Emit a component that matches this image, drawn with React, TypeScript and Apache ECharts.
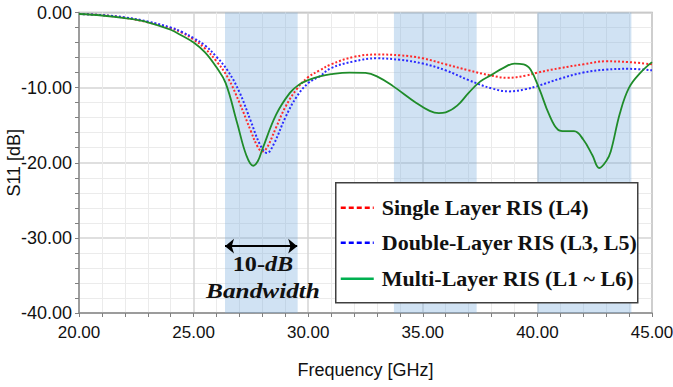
import React, { useEffect, useRef } from "react";
import * as echarts from "echarts";

// ---- data ----
const singleFreq = [20, 21, 22, 23, 24, 24.5, 25, 25.5, 26, 26.5, 27, 27.5, 27.8, 28.0, 28.2, 28.6, 29.0, 29.5, 30, 30.5, 31, 32, 33, 34, 35, 36, 37, 38, 38.7, 39.5, 40, 41, 42, 43, 44, 45];
const singleS11 = [-0.2, -0.35, -0.7, -1.3, -2.1, -2.7, -3.6, -4.8, -6.5, -8.7, -12.0, -15.8, -17.9, -18.5, -18.0, -15.3, -12.6, -10.2, -8.6, -7.7, -6.9, -5.9, -5.6, -5.7, -6.1, -6.9, -7.7, -8.4, -8.7, -8.4, -8.0, -7.4, -6.9, -6.5, -6.6, -6.9];

const doubleFreq = [20, 21, 22, 23, 24, 24.5, 25, 25.5, 26, 26.5, 27, 27.5, 27.9, 28.2, 28.5, 29.0, 29.5, 30, 30.5, 31, 32, 33, 34, 35, 36, 37, 38, 38.8, 39.5, 40, 41, 42, 43, 44, 45];
const doubleS11 = [-0.2, -0.35, -0.65, -1.2, -2.0, -2.6, -3.4, -4.4, -5.9, -7.8, -10.6, -14.5, -17.6, -18.7, -17.5, -14.0, -11.2, -9.4, -8.5, -7.4, -6.5, -6.1, -6.3, -6.8, -7.7, -9.0, -10.1, -10.5, -10.2, -9.8, -8.8, -8.0, -7.6, -7.5, -7.7];

const multiFreq = [20, 21, 22, 23, 24, 24.5, 25, 25.5, 26, 26.4, 26.9, 27.3, 27.6, 27.8, 28.0, 28.6, 29.2, 29.6, 30.0, 30.5, 31, 31.8, 32.5, 33.0, 33.7, 34.7, 35.3, 35.7, 36.0, 36.5, 37.0, 37.5, 38.0, 38.5, 39.0, 39.4, 39.7, 40.1, 40.5, 40.9, 41.2, 41.6, 42.0, 42.4, 42.7, 43.0, 43.2, 43.6, 44.0, 44.5, 45];
const multiS11 = [-0.2, -0.4, -0.75, -1.3, -2.3, -3.1, -4.0, -5.3, -7.3, -9.4, -14.7, -19.0, -20.4, -19.8, -18.2, -13.6, -10.7, -9.6, -9.0, -8.5, -8.2, -8.0, -8.05, -8.5, -9.8, -12.0, -13.1, -13.4, -13.3, -12.4, -10.7, -9.2, -8.3, -7.4, -6.8, -6.9, -7.6, -10.3, -13.5, -15.6, -15.8, -15.8, -16.9, -19.0, -20.7, -19.8, -18.5, -13.4, -10.0, -8.0, -6.6];

const bandStarts = [26.37, 33.74, 40.0];
const bandEnds = [29.54, 37.35, 44.1];
const arrowFrom = 26.37;
const arrowTo = 29.52;
const arrowLevel = -31.1;

const seriesNames = ["Single Layer RIS (L4)", "Double-Layer RIS (L3, L5)", "Multi-Layer RIS (L1 ~ L6)"];
const xAxisTitle = "Frequency [GHz]";
const yAxisTitle = "S11 [dB]";

const SANS = '"Liberation Sans", Arial, sans-serif';
const SERIF = '"Liberation Serif", "Times New Roman", serif';

const zip = (xs: number[], ys: number[]) => xs.map((x, i) => [x, ys[i]]);

export default function App() {
  const ref = useRef<HTMLDivElement>(null);
  useEffect(() => {
    document.body.style.margin = "0";
    const chart = echarts.init(ref.current!, null, { renderer: "svg" });

    const legendColors = ["#ff0000", "#0000ff", "#00b050"];
    const legendDash: any[] = [[5, 3], [5, 3], null];
    const LZ = 100;
    const legendChildren: any[] = [
      { type: "rect", z: LZ, shape: { x: 0, y: 0, width: 302, height: 120 }, style: { fill: "#ffffff", stroke: "#404040", lineWidth: 1.5 } },
    ];
    const rowY = [25, 60, 96];
    seriesNames.forEach((name, i) => {
      legendChildren.push({
        type: "line",
        z: LZ + 1,
        shape: { x1: 5, y1: rowY[i], x2: 38, y2: rowY[i] },
        style: { stroke: legendColors[i], lineWidth: 2.5, lineDash: legendDash[i] },
      });
      legendChildren.push({
        type: "text",
        z: LZ + 1,
        x: 46,
        y: rowY[i],
        style: { text: name, font: `bold 22px ${SERIF}`, fill: "#111", textVerticalAlign: "middle", textAlign: "left" },
      });
    });

    const axisCommon = {
      nameLocation: "middle",
      nameMoveOverlap: false,
      nameTextStyle: { fontFamily: SANS, fontSize: 18, color: "#111" },
      axisLine: { show: true, onZero: false, lineStyle: { color: "#8c8c8c", width: 1.5 } },
      axisTick: { show: true, length: 4, lineStyle: { color: "#808080" } },
      minorTick: { show: true, splitNumber: 5, length: 4, lineStyle: { color: "#808080" } },
      splitLine: { show: true, lineStyle: { color: "#d4d4d4", width: 1.5 } },
      minorSplitLine: { show: true, lineStyle: { color: "#ebebeb", width: 1 } },
    };

    const option: any = {
      animation: false,
      backgroundColor: "#ffffff",
      grid: {
        left: 79,
        right: 21,
        top: 12.5,
        bottom: 74,
        show: true,
        borderColor: "#a8a8a8",
        borderWidth: 1.5,
        containLabel: false,
        outerBoundsMode: "none",
      },
      xAxis: {
        ...axisCommon,
        type: "value",
        min: 20,
        max: 45,
        interval: 5,
        name: xAxisTitle,
        nameGap: 48,
        axisLabel: { formatter: (v: number) => v.toFixed(2), fontFamily: SANS, fontSize: 17, color: "#111", margin: 11 },
      },
      yAxis: {
        ...axisCommon,
        type: "value",
        min: -40,
        max: 0,
        interval: 10,
        name: yAxisTitle,
        nameGap: 56,
        axisLabel: { formatter: (v: number) => v.toFixed(2), fontFamily: SANS, fontSize: 18, color: "#111", margin: 7 },
      },
      series: [
        {
          type: "line",
          name: "bands",
          data: [],
          z: 1,
          silent: true,
          markArea: {
            silent: true,
            itemStyle: { color: "rgba(121,172,221,0.35)" },
            data: bandStarts.map((s, i) => [{ xAxis: s }, { xAxis: bandEnds[i] }]),
          },
          markLine: {
            silent: true,
            symbol: ["arrow", "arrow"],
            symbolSize: [11, 9],
            label: { show: false },
            lineStyle: { color: "#000", width: 2, type: "solid" },
            data: [[{ coord: [arrowFrom, arrowLevel] }, { coord: [arrowTo, arrowLevel] }]],
          },
        },
        {
          type: "line",
          name: seriesNames[0],
          data: zip(singleFreq, singleS11),
          showSymbol: false,
          smooth: 0.4,
          z: 3,
          lineStyle: { color: "#ff2a2a", width: 2, type: [2, 2] },
        },
        {
          type: "line",
          name: seriesNames[1],
          data: zip(doubleFreq, doubleS11),
          showSymbol: false,
          smooth: 0.4,
          z: 3,
          lineStyle: { color: "#2a2aff", width: 2, type: [2, 2] },
        },
        {
          type: "line",
          name: seriesNames[2],
          data: zip(multiFreq, multiS11),
          showSymbol: false,
          smooth: 0.4,
          z: 4,
          lineStyle: { color: "#1f8c2a", width: 1.8, type: "solid" },
        },
      ],
      graphic: [
        { type: "group", left: 335, top: 182, z: LZ, children: legendChildren },
        {
          type: "text",
          x: 263,
          y: 263,
          scaleX: 1.1,
          z: LZ,
          style: {
            text: "{n|10-}{i|dB}",
            textAlign: "center",
            textVerticalAlign: "middle",
            rich: {
              n: { font: `bold 22px ${SERIF}`, fill: "#111" },
              i: { font: `italic bold 22px ${SERIF}`, fill: "#111" },
            },
          },
        },
        {
          type: "text",
          x: 263,
          y: 291,
          scaleX: 1.15,
          z: LZ,
          style: { text: "Bandwidth", font: `italic bold 22px ${SERIF}`, fill: "#111", textAlign: "center", textVerticalAlign: "middle" },
        },
      ],
    };
    chart.setOption(option);
    return () => chart.dispose();
  }, []);
  return <div ref={ref} style={{ width: 673, height: 387, position: "absolute", left: 0, top: 0 }} />;
}
